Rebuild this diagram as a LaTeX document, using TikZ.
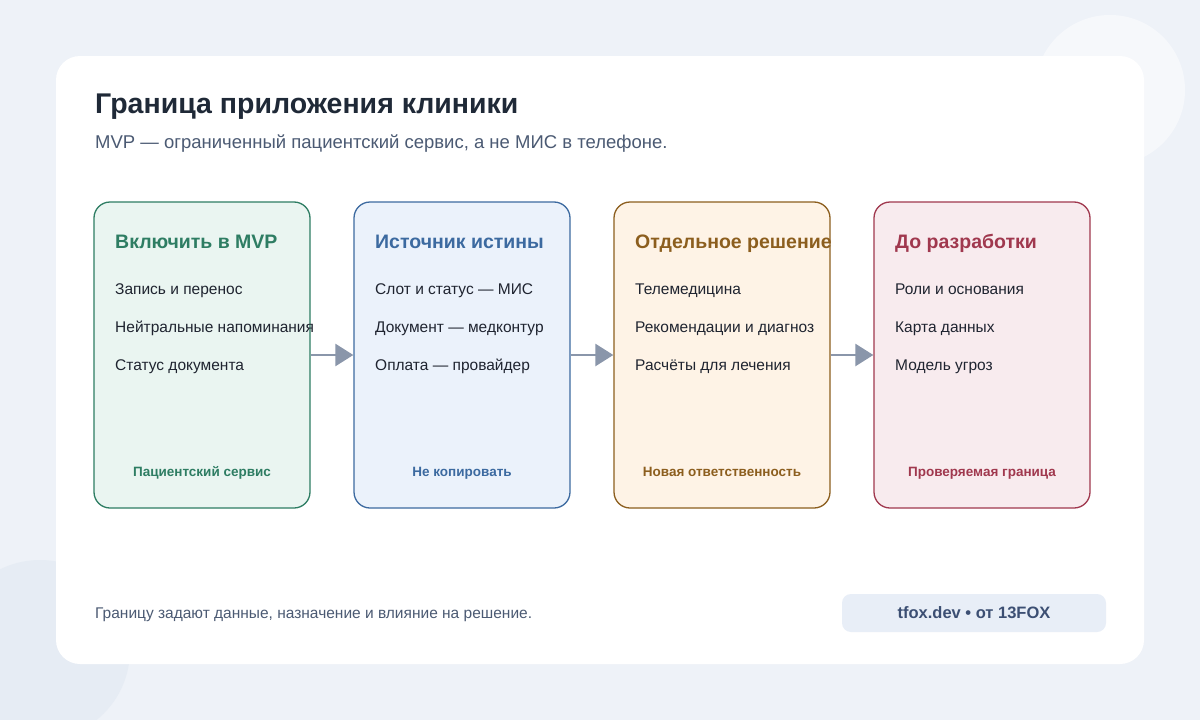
\documentclass[tikz,border=0pt]{standalone}
\usepackage{fontspec}
\setmainfont{Liberation Sans}
\usetikzlibrary{arrows.meta,positioning}
\definecolor{pageback}{HTML}{EEF2F8}
\definecolor{bubble}{HTML}{E6ECF4}
\definecolor{inktitle}{HTML}{1F2937}
\definecolor{inksub}{HTML}{4B5A73}
\definecolor{inkbody}{HTML}{1F2430}
\definecolor{greenline}{HTML}{2E7D63}
\definecolor{greenfill}{HTML}{EAF5F1}
\definecolor{blueline}{HTML}{3C6AA0}
\definecolor{bluefill}{HTML}{EBF2FB}
\definecolor{orangeline}{HTML}{8C5E1E}
\definecolor{orangefill}{HTML}{FEF3E6}
\definecolor{redline}{HTML}{A0384E}
\definecolor{redfill}{HTML}{F8EBEE}
\definecolor{arrowgray}{HTML}{8A96AA}
\definecolor{badgefill}{HTML}{E8EEF7}
\definecolor{badgeink}{HTML}{3C4F73}
\newcommand{\fs}[1]{\fontsize{#1}{#1}\selectfont}
\tikzset{
  stage/.style={draw=#1line, fill=#1fill, line width=1.3pt, rounded corners=16pt,
    minimum width=216pt, minimum height=306pt, inner sep=0pt},
  head/.style={anchor=base west, inner sep=0pt, font=\fs{19.5}\bfseries, text=#1line},
  item/.style={anchor=base west, inner sep=0pt, font=\fs{15.5}, text=inkbody},
  foot/.style={anchor=base, inner sep=0pt, font=\fs{13.5}\bfseries, text=#1line},
  flow/.style={-{Triangle[length=18pt,width=22pt]}, draw=arrowgray, line width=2.6pt}
}
\begin{document}
\begin{tikzpicture}[x=1pt,y=-1pt]

    % Background and card
    \fill[pageback] (0,0) rectangle (1200,720);
    \begin{scope}
      \clip (0,0) rectangle (1200,720);
      \fill[white, opacity=0.5] (1110,90) circle (75);
      \fill[bubble] (40,650) circle (90);
    \end{scope}
    \fill[white, rounded corners=24pt] (56,56) rectangle (1144,664);

    % Title
    \node[anchor=base west, inner sep=0pt, font=\fs{28.5}\bfseries, text=inktitle] (title) at (95,113) {Граница приложения клиники};
    \node[anchor=base west, inner sep=0pt, font=\fs{18.5}, text=inksub] (subtitle) at (95,148) {MVP — ограниченный пациентский сервис, а не МИС в телефоне.};

    % Stages
    \node[stage=green]  (include) at (202,355) {};
    \node[stage=blue]   (source)  at (462,355) {};
    \node[stage=orange] (apart)   at (722,355) {};
    \node[stage=red]    (before)  at (982,355) {};

    \node[head=green]  at (115,248) {Включить в MVP};
    \node[head=blue]   at (375,248) {Источник истины};
    \node[head=orange] at (635,248) {Отдельное решение};
    \node[head=red]    at (895,248) {До разработки};

    \node[item] at (115,294) {Запись и перенос};
    \node[item] at (115,332) {Нейтральные напоминания};
    \node[item] at (115,370) {Статус документа};
    \node[item] at (375,294) {Слот и статус — МИС};
    \node[item] at (375,332) {Документ — медконтур};
    \node[item] at (375,370) {Оплата — провайдер};
    \node[item] at (635,294) {Телемедицина};
    \node[item] at (635,332) {Рекомендации и диагноз};
    \node[item] at (635,370) {Расчёты для лечения};
    \node[item] at (895,294) {Роли и основания};
    \node[item] at (895,332) {Карта данных};
    \node[item] at (895,370) {Модель угроз};

    \node[foot=green]  at (202,476) {Пациентский сервис};
    \node[foot=blue]   at (462,476) {Не копировать};
    \node[foot=orange] at (722,476) {Новая ответственность};
    \node[foot=red]    at (982,476) {Проверяемая граница};

    % Arrows
    \draw[flow] (include.east) -- (source.west);
    \draw[flow] (source.east) -- (apart.west);
    \draw[flow] (apart.east) -- (before.west);

    % Footer
    \node[anchor=base west, inner sep=0pt, font=\fs{15.5}, text=inksub] (note) at (95,618) {Границу задают данные, назначение и влияние на решение.};
    \node[fill=badgefill, rounded corners=9pt, minimum width=264pt, minimum height=38pt,
      font=\fs{16.5}\bfseries, text=badgeink] (badge) at (974,613) {tfox.dev • от 13FOX};

\end{tikzpicture}
\end{document}
